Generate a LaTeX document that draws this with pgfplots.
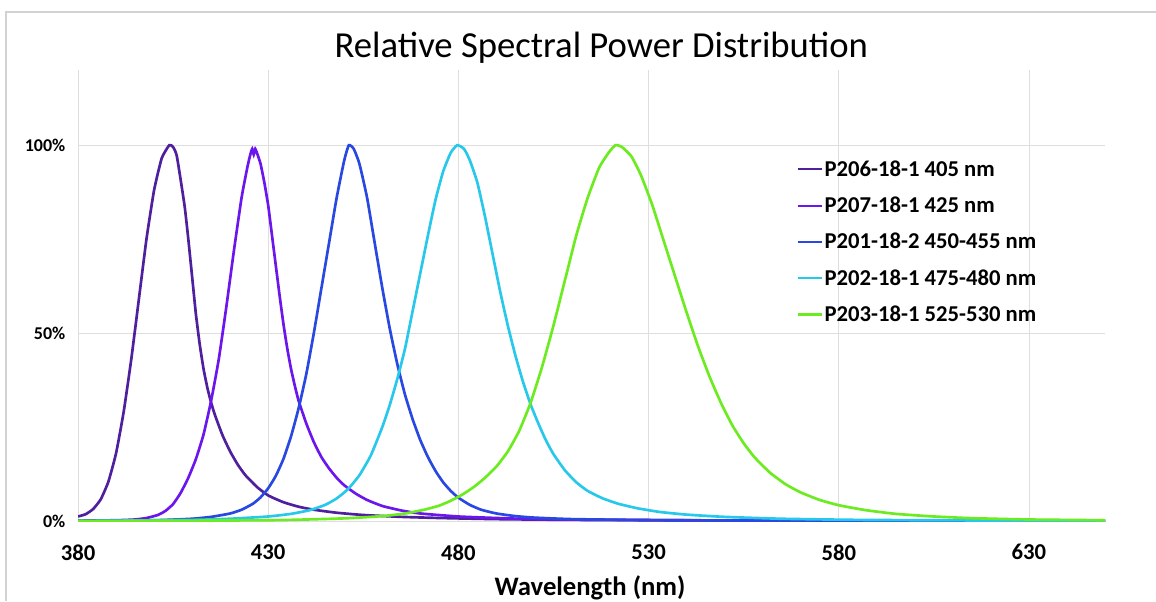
\documentclass[border=0pt]{standalone}
\usepackage{pgfplots}
\pgfplotsset{compat=1.18}
\usepackage{fontspec}
\setmainfont{Carlito}

\definecolor{cA}{RGB}{78,32,158}
\definecolor{cB}{RGB}{108,22,238}
\definecolor{cC}{RGB}{40,72,225}
\definecolor{cD}{RGB}{40,200,235}
\definecolor{cE}{RGB}{108,235,32}

\begin{document}
\begin{tikzpicture}
\useasboundingbox (0,0) rectangle (867pt,450.75pt);
\draw[gray!35, line width=0.8pt] (4.5pt,0) -- (4.5pt,441.75pt) -- (867pt,441.75pt);
\node[font=\fontsize{27.5}{30}\selectfont] at (451pt,415pt) {Relative Spectral Power Distribution};
\node[font=\bfseries\fontsize{20}{22}\selectfont] at (442.5pt,10pt) {Wavelength (nm)};
\begin{axis}[
    at={(58.5pt,60pt)}, anchor=south west,
    scale only axis,
    width=770.25pt, height=338.25pt,
    xmin=380, xmax=650, ymin=0, ymax=1.2,
    xtick={380,430,480,530,580,630},
    ytick={0,0.5,1}, yticklabels={0\%,50\%,100\%},
    /pgf/number format/assume math mode=true,
    xticklabel style={font=\bfseries\fontsize{17}{18}\selectfont, yshift=-14pt},
    yticklabel style={font=\bfseries\fontsize{13.5}{14}\selectfont, xshift=-6pt},
    grid=major,
    major grid style={draw=black!13, line width=0.6pt},
    axis line style={draw=none},
    tick style={draw=none},
    every axis plot/.append style={line width=2pt, no marks, smooth, tension=0.3},
    legend cell align=left,
    legend style={at={(0.700,0.803)}, anchor=north west, draw=none, fill=none,
        font=\bfseries\fontsize{17}{18}\selectfont, row sep=12pt,
        inner sep=0pt, nodes={inner sep=1pt}},
    legend image code/.code={\draw[#1, line width=1.6pt] (0pt,0pt) -- (18pt,0pt);},
]
% P206-18-1 405 nm
\addplot[cA] coordinates {
(380,0.012) (382,0.018) (384,0.032) (386,0.058) (388,0.105) (390,0.18)
(392,0.29) (394,0.43) (396,0.59) (398,0.75) (400,0.88) (402,0.965)
(404,1.00) (405,0.995) (406,0.97) (408,0.84) (409,0.75) (410,0.65)
(411,0.55) (412,0.47) (413,0.405) (414,0.355) (415,0.315) (416,0.282)
(418,0.228) (420,0.185) (422,0.15) (424,0.122) (427,0.091) (430,0.068)
(434,0.05) (438,0.038) (442,0.03) (448,0.022) (455,0.016) (465,0.011)
(475,0.008) (490,0.005) (510,0.003) (550,0.0015) (650,0.0005)
};
\addlegendentry{P206-18-1 405 nm}
% P207-18-1 425 nm
\addplot[cB] coordinates {
(380,0.001) (390,0.002) (395,0.004) (398,0.008) (401,0.016) (403,0.027)
(405,0.045) (407,0.075) (409,0.115) (411,0.165) (413,0.23) (415,0.32)
(417,0.43) (419,0.57) (421,0.72) (423,0.86) (424.5,0.94) (425.3,0.975)
(425.8,0.99) (426.2,0.975) (426.6,0.99) (427.2,0.975) (428,0.95) (429,0.90)
(430,0.84) (431,0.76) (432,0.68) (433,0.60) (434,0.525) (435,0.46)
(436,0.405) (437,0.36) (438,0.32) (440,0.26) (442,0.21) (444,0.17)
(446,0.14) (448,0.115) (450,0.095) (453,0.073) (456,0.056) (460,0.04)
(465,0.028) (470,0.02) (480,0.012) (490,0.008) (500,0.005) (520,0.003)
(560,0.0012) (650,0.0003)
};
\addlegendentry{P207-18-1 425 nm}
% P201-18-2 450-455 nm
\addplot[cC] coordinates {
(380,0) (400,0.002) (410,0.006) (415,0.011) (420,0.02) (423,0.03)
(426,0.046) (428,0.063) (430,0.087) (432,0.12) (434,0.165) (436,0.225)
(438,0.30) (440,0.39) (442,0.50) (444,0.62) (446,0.74) (448,0.86)
(450,0.96) (451.2,1.00) (452.5,0.99) (454,0.95) (456,0.86) (458,0.74)
(460,0.62) (462,0.51) (464,0.415) (466,0.335) (468,0.27) (470,0.215)
(472,0.17) (474,0.133) (476,0.103) (478,0.08) (480,0.062) (483,0.043)
(486,0.03) (490,0.02) (495,0.013) (500,0.009) (510,0.005) (530,0.0025)
(560,0.001) (650,0.0002)
};
\addlegendentry{P201-18-2 450-455 nm}
% P202-18-1 475-480 nm
\addplot[cD] coordinates {
(380,0) (410,0.003) (420,0.006) (430,0.012) (436,0.019) (441,0.029)
(445,0.043) (448,0.06) (451,0.085) (454,0.122) (457,0.175) (460,0.25)
(462,0.31) (464,0.38) (466,0.46) (468,0.56) (470,0.66) (472,0.76)
(474,0.855) (476,0.93) (478,0.98) (479.7,1.00) (481.5,0.99) (483,0.96)
(485,0.90) (487,0.81) (489,0.71) (491,0.61) (493,0.52) (495,0.44)
(497,0.37) (499,0.31) (501,0.26) (503,0.215) (505,0.178) (508,0.135)
(511,0.103) (514,0.08) (518,0.06) (522,0.046) (527,0.034) (533,0.024)
(540,0.017) (550,0.011) (565,0.006) (585,0.003) (615,0.0015) (650,0.0006)
};
\addlegendentry{P202-18-1 475-480 nm}
% P203-18-1 525-530 nm
\addplot[cE] coordinates {
(380,0) (430,0.002) (450,0.007) (460,0.013) (466,0.02) (471,0.03)
(475,0.041) (478,0.054) (481,0.07) (484,0.09) (487,0.115) (490,0.145)
(493,0.185) (496,0.24) (499,0.315) (502,0.41) (505,0.52) (508,0.64)
(511,0.76) (514,0.86) (517,0.94) (519.5,0.98) (521.3,1.00) (523,0.995)
(525.5,0.97) (528,0.92) (531,0.84) (534,0.745) (537,0.65) (540,0.555)
(543,0.465) (546,0.385) (549,0.315) (552,0.255) (555,0.207) (558,0.168)
(562,0.128) (566,0.098) (570,0.076) (575,0.056) (580,0.042) (587,0.029)
(595,0.019) (605,0.012) (615,0.0075) (630,0.004) (650,0.002)
};
\addlegendentry{P203-18-1 525-530 nm}
\end{axis}
\end{tikzpicture}
\end{document}
